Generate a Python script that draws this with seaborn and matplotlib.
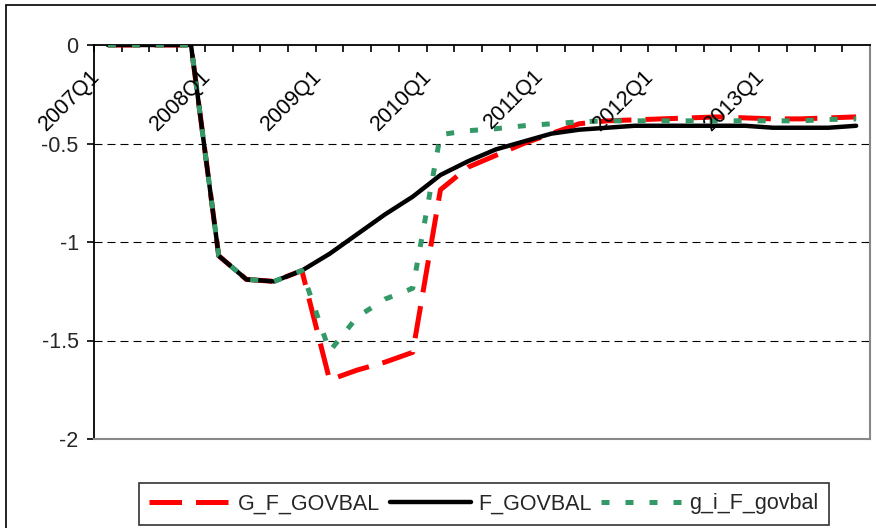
import numpy as np
import pandas as pd
import matplotlib
matplotlib.use("Agg")
import matplotlib.pyplot as plt
import seaborn as sns
from matplotlib.patches import Rectangle

# quarters 2007Q1 .. 2013Q4
years = [2007, 2008, 2009, 2010, 2011, 2012, 2013]
quarters = [f"{y}Q{q}" for y in years for q in (1, 2, 3, 4)]
label_quarters = ["2007Q1", "2008Q1", "2009Q1", "2010Q1", "2011Q1", "2012Q1", "2013Q1"]

# values
g_f_govbal = [0, 0, 0, 0, -1.07, -1.19, -1.20, -1.145, -1.70, -1.65, -1.61, -1.56,
              -0.735, -0.62, -0.56, -0.50, -0.45, -0.40, -0.385, -0.38, -0.375, -0.37,
              -0.365, -0.37, -0.375, -0.375, -0.37, -0.365]
f_govbal = [0, 0, 0, 0, -1.07, -1.19, -1.20, -1.145, -1.06, -0.96, -0.86, -0.77,
            -0.66, -0.59, -0.53, -0.49, -0.45, -0.43, -0.42, -0.41, -0.41, -0.41,
            -0.41, -0.41, -0.42, -0.42, -0.42, -0.41]
g_i_f_govbal = [0, 0, 0, 0, -1.07, -1.19, -1.20, -1.145, -1.555, -1.38, -1.29, -1.235,
                -0.455, -0.435, -0.425, -0.41, -0.40, -0.39, -0.385, -0.385, -0.385, -0.385,
                -0.385, -0.385, -0.385, -0.385, -0.378, -0.375]

yticks = [0, -0.5, -1, -1.5, -2]
ytick_labels = ["0", "-0.5", "-1", "-1.5", "-2"]

df = pd.DataFrame({
    "idx": np.arange(len(quarters)),
    "quarter": quarters,
    "G_F_GOVBAL": g_f_govbal,
    "F_GOVBAL": f_govbal,
    "g_i_F_govbal": g_i_f_govbal,
})

sns.set_style("white")
plt.rcParams["font.family"] = ["Liberation Sans", "DejaVu Sans"]
plt.rcParams["axes.unicode_minus"] = False

W, H = 876, 528
fig = plt.figure(figsize=(W / 100, H / 100), dpi=100)
fig.patch.set_facecolor("white")
ax = fig.add_axes([94 / W, 1 - 439 / H, (870 - 94) / W, (439 - 45) / H])

# outer chart border (left and top visible)
fig.patches.append(Rectangle((6 / W, -0.2), 1.2, 1.2 - 5 / H, transform=fig.transFigure,
                             fill=False, edgecolor="black", linewidth=1.2, zorder=0))

sns.lineplot(data=df, x="idx", y="G_F_GOVBAL", ax=ax, color="#ff0000", linewidth=3.6,
             linestyle=(0, (6.5, 2.8)), label="G_F_GOVBAL", zorder=3)
sns.lineplot(data=df, x="idx", y="F_GOVBAL", ax=ax, color="black", linewidth=3.2,
             label="F_GOVBAL", zorder=4)
sns.lineplot(data=df, x="idx", y="g_i_F_govbal", ax=ax, color="#339966", linewidth=3.6,
             linestyle=(0, (1.6, 3.2)), label="g_i_F_govbal", zorder=5)
for ln in ax.get_lines():
    ln.set_dash_capstyle("butt")
    ln.set_solid_capstyle("round")

ax.set_xlim(-0.5, len(quarters) - 0.5)
ax.set_ylim(-2, 0)
ax.set_xlabel("")
ax.set_ylabel("")

# dashed horizontal gridlines
for yv in [-0.5, -1, -1.5]:
    ax.axhline(yv, color="black", linewidth=0.8, linestyle=(0, (7.2, 4.5)), zorder=1)

# spines
for s in ["top", "left"]:
    ax.spines[s].set_color("black")
    ax.spines[s].set_linewidth(1.3)
for s in ["bottom", "right"]:
    ax.spines[s].set_color("#888888")
    ax.spines[s].set_linewidth(1.5)

# x ticks on the zero line (top), between categories
ax.xaxis.set_ticks_position("top")
ax.set_xticks(np.arange(-0.5, len(quarters), 1.0))
ax.tick_params(axis="x", which="both", direction="in", length=5, width=1.2,
               color="black", labeltop=False, labelbottom=False, top=True, bottom=False)
for q in label_quarters:
    i = quarters.index(q)
    ax.text(i - 0.68, -0.105, q, rotation=45, rotation_mode="anchor", ha="right", va="top",
            fontsize=15.5, color="black", zorder=6)

ax.set_yticks(yticks)
ax.set_yticklabels(ytick_labels)
ax.tick_params(axis="y", direction="out", length=5, width=1.2, color="black", pad=6,
               labelsize=15.5, left=True)

leg = ax.legend(loc="center", bbox_to_anchor=(484 / W, 1 - 504 / H), bbox_transform=fig.transFigure,
                ncol=3, frameon=True, fancybox=False, fontsize=15.5, handlelength=3.8,
                handletextpad=0.3, columnspacing=0.45, borderpad=0.5)
leg.get_frame().set_edgecolor("black")
leg.get_frame().set_linewidth(1.2)

fig.savefig("out.png", dpi=100)
